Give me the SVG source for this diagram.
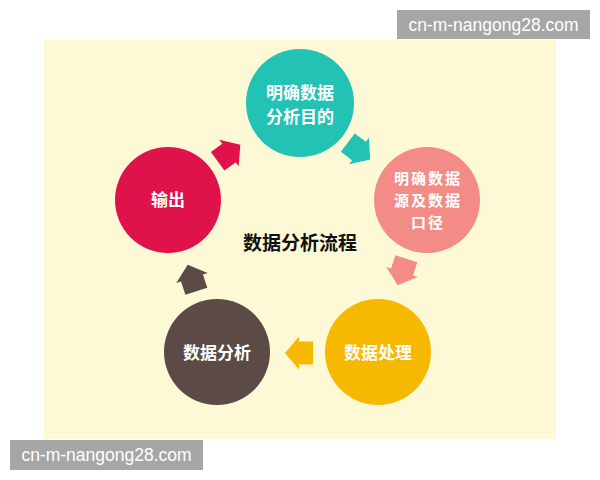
<svg xmlns="http://www.w3.org/2000/svg" width="600" height="480" viewBox="0 0 600 480">
<style>
.lbl{font-family:"Noto Sans CJK SC","Liberation Sans",sans-serif;font-weight:bold;font-size:17px;fill:#ffffff;text-anchor:middle}
.sm{font-size:15px;letter-spacing:2px}
.title{font-family:"Noto Sans CJK SC","Liberation Sans",sans-serif;font-weight:bold;font-size:19px;fill:#111111;text-anchor:middle}
.wm{font-family:"Liberation Sans","DejaVu Sans",sans-serif;font-size:17.5px;fill:#ffffff;text-anchor:middle}
</style>
<defs>
<path id="arr" d="M14,0 L0,-16.5 L0,-11.5 L-14,-11.5 L-14,11.5 L0,11.5 L0,16.5 Z"/>
</defs>
<rect width="600" height="480" fill="#ffffff"/>
<rect x="44" y="40" width="512" height="399" fill="#fdf8d6"/>
<g id="connectors">
<use href="#arr" transform="translate(229,153) rotate(-36)" fill="#e0124c"/>
<use href="#arr" transform="translate(359,151) rotate(37)" fill="#22c2b4"/>
<use href="#arr" transform="translate(402,272) rotate(108)" fill="#f38b87"/>
<use href="#arr" transform="translate(299,353) rotate(180)" fill="#f7b800"/>
<use href="#arr" transform="translate(192,278) rotate(-108)" fill="#5b4a45"/>
</g>
<g id="n-goal">
<circle cx="300" cy="103" r="54" fill="#22c2b4"/>
<text class="lbl" x="300" y="99">明确数据</text>
<text class="lbl" x="300" y="123">分析目的</text>
</g>
<g id="n-source">
<circle cx="427" cy="200" r="53" fill="#f38b87"/>
<text class="lbl sm" x="428" y="184">明确数据</text>
<text class="lbl sm" x="428" y="206">源及数据</text>
<text class="lbl sm" x="428" y="228">口径</text>
</g>
<g id="n-process">
<circle cx="378" cy="352" r="53" fill="#f7b800"/>
<text class="lbl" x="378" y="359">数据处理</text>
</g>
<g id="n-analysis">
<circle cx="217" cy="352" r="53" fill="#5b4a45"/>
<text class="lbl" x="217" y="359">数据分析</text>
</g>
<g id="n-output">
<circle cx="168" cy="200" r="53" fill="#e0124c"/>
<text class="lbl" x="168" y="206">输出</text>
</g>
<text class="title" x="300" y="250">数据分析流程</text>
<rect x="397" y="10" width="193" height="29" fill="#a6a6a6"/>
<text class="wm" x="493.5" y="31">cn-m-nangong28.com</text>
<rect x="10" y="440" width="193" height="30" fill="#a6a6a6"/>
<text class="wm" x="106.5" y="461">cn-m-nangong28.com</text>
</svg>
